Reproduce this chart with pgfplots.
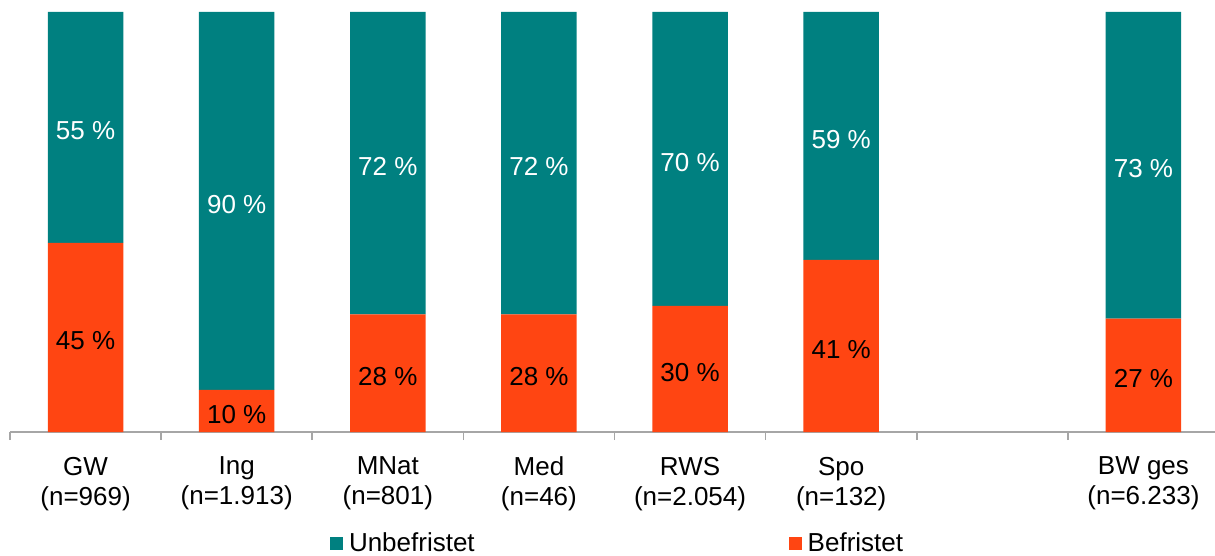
\documentclass[border=0pt]{standalone}
\usepackage{pgfplots}
\pgfplotsset{compat=1.18}
\usepackage{pgfplotstable}
\usepackage{fontspec}
\setmainfont{Liberation Sans}
\definecolor{cTeal}{HTML}{008080}
\definecolor{cOrange}{HTML}{FF4512}
\definecolor{cAxis}{HTML}{A6A6A6}

\pgfplotstableread{
x bef unbef befmid unbefmid
0 45 55 22.5 72.5
1 10 90 5 55
2 28 72 14 64
3 28 72 14 64
4 30 70 15 65
5 41 59 20.5 70.5
7 27 73 13.5 63.5
}\data

\begin{document}
\begin{tikzpicture}
\useasboundingbox (-5pt,-62pt) rectangle (602.5pt,216pt);
\pgfplotsset{
  common/.style={
    scale only axis,
    width=604.5pt, height=210pt,
    xmin=-0.5, xmax=7.5, ymin=0, ymax=100,
  }
}
\begin{axis}[
  common,
  ybar stacked,
  bar width=0.5,
  axis y line=none,
  axis x line*=bottom,
  x axis line style={draw=cAxis, line width=0.8pt},
  xtick={0,1,2,3,4,5,7},
  xticklabels={{GW\\(n=969)},{Ing\\(n=1.913)},{MNat\\(n=801)},{Med\\(n=46)},{RWS\\(n=2.054)},{Spo\\(n=132)},{BW ges\\(n=6.233)}},
  xticklabel style={align=center, font=\fontsize{13}{15}\selectfont, text=black, yshift=-9pt},
  major tick length=0pt,
  minor xtick={-0.5,0.5,...,6.5},
  minor tick length=4pt,
  tick align=outside,
  minor tick style={draw=cAxis, line width=0.8pt},
  major tick style={draw=none},
  legend columns=2,
  reverse legend,
  legend style={
    at={(axis description cs:0.2647,-0.266)}, anchor=west,
    draw=none, inner sep=0pt, outer sep=0pt,
    font=\fontsize{13}{15}\selectfont,
    /tikz/every even column/.append style={column sep=155pt},
  },
  legend image code/.code={\fill[#1] (0pt,-3.25pt) rectangle (6.5pt,3.25pt);},
]
\addplot[fill=cOrange, draw=none] table[x=x, y=bef] {\data};
\addlegendentry{\hspace{1pt}Befristet}
\addplot[fill=cTeal, draw=none] table[x=x, y=unbef] {\data};
\addlegendentry{\hspace{1pt}Unbefristet}
\end{axis}
\begin{axis}[
  common,
  hide axis,
  every node near coord/.append style={anchor=center, yshift=-1.8pt, font=\fontsize{13}{15}\selectfont},
]
\addplot[only marks, mark=none, nodes near coords={\pgfplotspointmeta\ \%},
  point meta=explicit symbolic,
  every node near coord/.append style={text=black}]
  table[x=x, y=befmid, meta=bef] {\data};
\addplot[only marks, mark=none, nodes near coords={\pgfplotspointmeta\ \%},
  point meta=explicit symbolic,
  every node near coord/.append style={text=white}]
  table[x=x, y=unbefmid, meta=unbef] {\data};
\end{axis}
\end{tikzpicture}
\end{document}
